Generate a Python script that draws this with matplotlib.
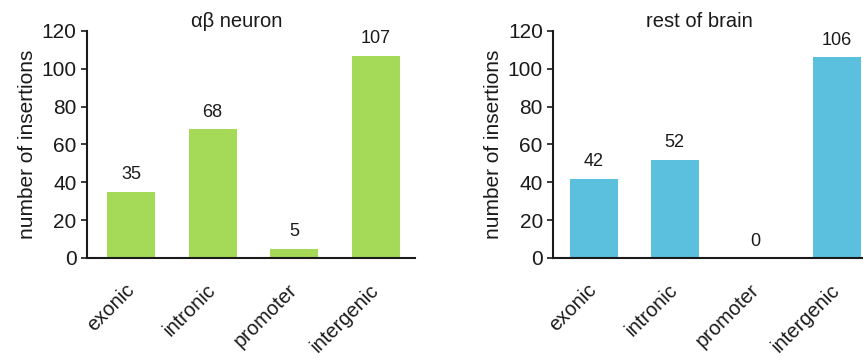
import matplotlib.pyplot as plt
import numpy as np

plt.rcParams['font.family'] = ['Liberation Sans', 'DejaVu Sans']

categories = ['exonic', 'intronic', 'promoter', 'intergenic']
ab_neuron = [35, 68, 5, 107]
rest_of_brain = [42, 52, 0, 106]

fig = plt.figure(figsize=(8.63, 3.62), dpi=100)
ax1 = fig.add_axes([0.1008, 0.2873, 0.3801, 0.6271])
ax2 = fig.add_axes([0.641, 0.2873, 0.3754, 0.6271])

panels = [
    (ax1, ab_neuron, '#a5da58', 'αβ neuron', (-0.54, 3.48)),
    (ax2, rest_of_brain, '#5bc0de', 'rest of brain', (-0.5, 3.5)),
]

for ax, vals, color, title, xlim in panels:
    x = np.arange(len(categories))
    ax.bar(x, vals, width=0.59, color=color)
    for xi, v in zip(x, vals):
        ax.annotate(str(v), (xi, v), xytext=(0, 6), textcoords='offset points',
                    ha='center', va='bottom', fontsize=13, color='#1a1a1a')
    ax.set_xlim(*xlim)
    ax.set_ylim(0, 120)
    ax.set_yticks(range(0, 121, 20))
    ax.set_xticks(x)
    # anchor each rotated label at its right-middle point
    ax.set_xticklabels(categories, rotation=45, ha='right', va='center',
                       rotation_mode='anchor', fontsize=14.5, color='#1a1a1a')
    ax.tick_params(axis='x', length=0, pad=21)
    ax.tick_params(axis='y', labelsize=15, length=4, width=1.2, colors='#1a1a1a')
    ax.set_ylabel('number of insertions', fontsize=15, color='#1a1a1a', labelpad=3)
    for s in ['top', 'right']:
        ax.spines[s].set_visible(False)
    for s in ['left', 'bottom']:
        ax.spines[s].set_linewidth(1.5)
        ax.spines[s].set_color('#1a1a1a')
    ax.text(1.3, 1.0, title, transform=ax.get_xaxis_transform(),
            ha='center', va='bottom', fontsize=14.5, color='#1a1a1a')

fig.savefig('out.png', dpi=100)
